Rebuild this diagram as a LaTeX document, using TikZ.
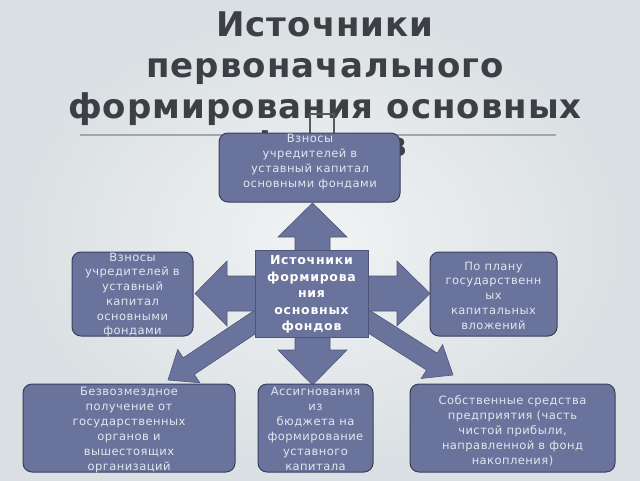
\documentclass[tikz,border=0pt]{standalone}
\usepackage{fontspec}
\setmainfont{DejaVu Sans}
\newfontfamily\titlefont[LetterSpace=3]{DejaVu Sans}
\newfontfamily\boxfont[LetterSpace=4]{DejaVu Sans}
\newfontfamily\ctrfont[LetterSpace=6]{DejaVu Sans}
\usetikzlibrary{calc}
\definecolor{bgin}{HTML}{F1F3F4}
\definecolor{bgout}{HTML}{D9DFE2}
\definecolor{boxfill}{HTML}{6A739C}
\definecolor{boxline}{HTML}{3B3F5C}
\definecolor{arrline}{HTML}{4E5578}
\definecolor{boxtext}{HTML}{E3E6EE}
\definecolor{titlecol}{HTML}{3C3F44}
\definecolor{rulecol}{HTML}{A3A7AB}
\tikzset{
  slidebox/.style={draw=boxline, line width=1pt, fill=boxfill, rounded corners=9pt, inner sep=0pt},
  boxtxt/.style={text=boxtext, align=center, inner sep=0pt, font=\boxfont\fontsize{11.5}{15}\selectfont},
  sidetxt/.style={boxtxt, font=\boxfont\fontsize{11.5}{14.7}\selectfont},
  ctrtxt/.style={text=white, align=center, inner sep=0pt, font=\ctrfont\bfseries\fontsize{12.5}{16.5}\selectfont},
  titletxt/.style={text=titlecol, anchor=base, inner sep=0pt, font=\titlefont\bfseries\fontsize{34}{41}\selectfont},
  blockarr/.style={fill=boxfill, draw=arrline, line width=0.6pt, line join=miter}
}
\newcommand\diagarrow[5]{% start, tip, shaft half width, head half width, head length
  \coordinate (#1#2h) at ($(#2)!#5!(#1)$);
  \filldraw[blockarr] ($(#1)!#3!90:(#2)$) -- ($(#1#2h)!#3!90:(#2)$) -- ($(#1#2h)!#4!90:(#2)$)
    -- (#2) -- ($(#1#2h)!#4!-90:(#2)$) -- ($(#1#2h)!#3!-90:(#2)$) -- ($(#1)!#3!-90:(#2)$) -- cycle;
}
\begin{document}
\begin{tikzpicture}[x=1pt,y=-1pt]
\useasboundingbox (0,0) rectangle (640,480);
\shade[inner color=bgin, outer color=bgout] (0,0) rectangle (640,480);

% title
\node[titletxt] (t1) at (325,36) {Источники};
\node[titletxt] (t2) at (325,77) {первоначального};
\node[titletxt] (t3) at (325,118) {формирования основных};
\node[titletxt] (t4) at (328,156) {фондов};
\draw[rulecol, line width=1.2pt] (80,135) -- (556,135);
\draw[gray!70!black, line width=1.1pt] (310,114) rectangle (334,140);

% diagonal arrows
\coordinate (dlA) at (264,316);
\coordinate (dlB) at (168,380);
\coordinate (drA) at (360,316);
\coordinate (drB) at (453,375);
\diagarrow{dlA}{dlB}{10pt}{20pt}{25pt}
\diagarrow{drA}{drB}{10pt}{20pt}{25pt}

% cross arrow
\filldraw[blockarr] (312.5,203) -- (347,237) -- (330,237) -- (330,276) -- (397,276) -- (397,261)
  -- (430,293.5) -- (397,326) -- (397,311) -- (330,311) -- (330,350) -- (347,350) -- (312.5,385)
  -- (278,350) -- (295,350) -- (295,311) -- (227,311) -- (227,326) -- (195,293.5) -- (227,261)
  -- (227,276) -- (295,276) -- (295,237) -- (278,237) -- cycle;

% centre
\node[draw=arrline, line width=0.6pt, fill=boxfill, minimum width=113pt, minimum height=87pt, inner sep=0pt] (ctr) at (311.5,293.5) {};
\node[ctrtxt] (ctrt) at (311.5,294.5) {Источники\\формирова\\ния\\основных\\фондов};

% boxes
\node[slidebox, minimum width=181pt, minimum height=69pt] (top) at (309.5,167.5) {};
\node[boxtxt] (topt) at (310,161.5) {Взносы\\учредителей в\\уставный капитал\\основными фондами};

\node[slidebox, minimum width=121pt, minimum height=84pt] (lft) at (132.5,294) {};
\node[sidetxt] (lftt) at (132.5,295) {Взносы\\учредителей в\\уставный\\капитал\\основными\\фондами};

\node[slidebox, minimum width=127pt, minimum height=84pt] (rgt) at (493.5,294) {};
\node[sidetxt] (rgtt) at (493.5,295.5) {По плану\\государственн\\ых\\капитальных\\вложений};

\node[slidebox, minimum width=212pt, minimum height=88pt] (bl) at (129,428) {};
\node[boxtxt] (blt) at (129,429.5) {Безвозмездное\\получение от\\государственных\\органов и\\вышестоящих\\организаций};

\node[slidebox, minimum width=115pt, minimum height=88pt] (bm) at (315.5,428) {};
\node[boxtxt] (bmt) at (315.5,428.5) {Ассигнования\\из\\бюджета на\\формирование\\уставного\\капитала};

\node[slidebox, minimum width=205pt, minimum height=88pt] (br) at (512.5,428) {};
\node[boxtxt] (brt) at (512.5,430.5) {Собственные средства\\предприятия (часть\\чистой прибыли,\\направленной в фонд\\накопления)};
\end{tikzpicture}
\end{document}
